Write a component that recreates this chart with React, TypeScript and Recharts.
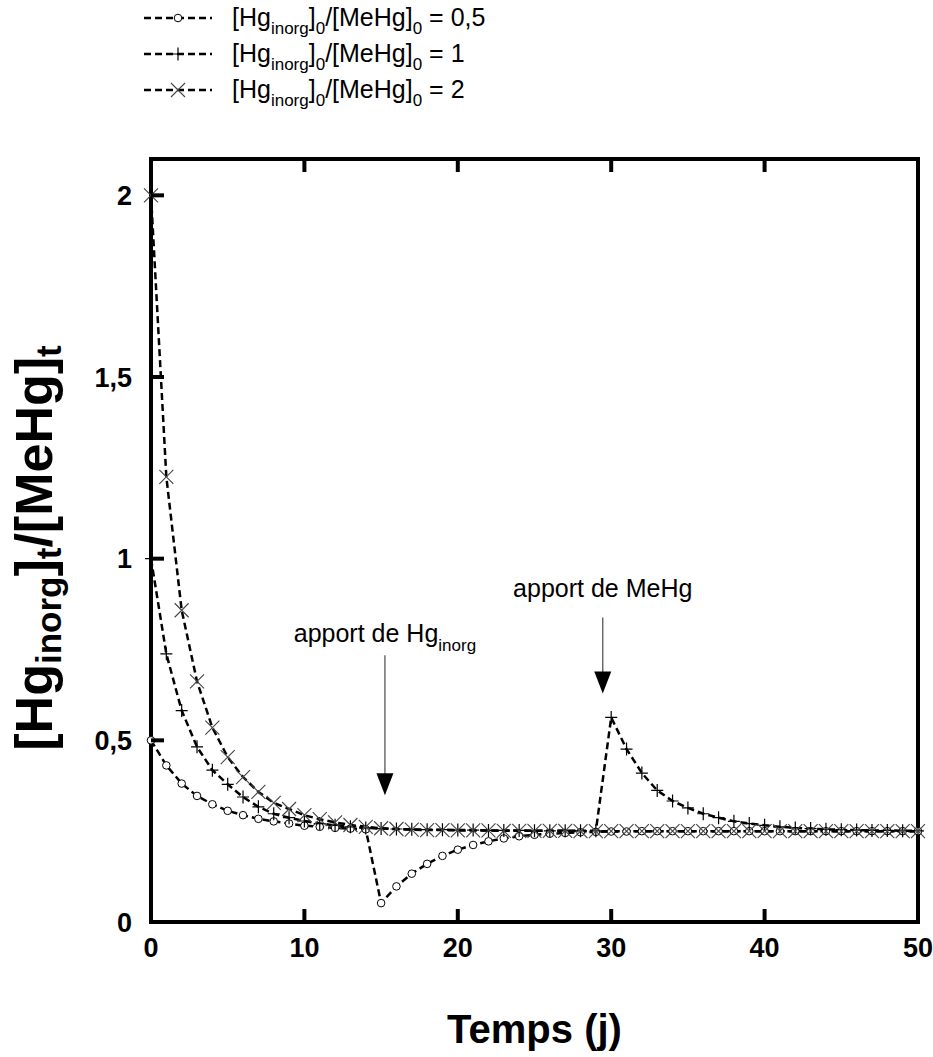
import React from 'react';
import { LineChart, Line, XAxis, YAxis, ReferenceArea, ReferenceDot, Legend } from 'recharts';

// temps (jours)
const days = [
  0, 1, 2, 3, 4, 5, 6, 7, 8, 9, 10, 11, 12, 13, 14, 15, 16, 17, 18, 19, 20, 21, 22, 23, 24, 25,
  26, 27, 28, 29, 30, 31, 32, 33, 34, 35, 36, 37, 38, 39, 40, 41, 42, 43, 44, 45, 46, 47, 48, 49, 50,
];

// [Hg inorg]0/[MeHg]0 = 0,5  (apport de Hg inorg a j15)
const ratioHalf = [
  0.5, 0.431, 0.381, 0.347, 0.324, 0.306, 0.294, 0.284, 0.277, 0.271, 0.265, 0.262, 0.259, 0.257, 0.255,
  0.052, 0.098, 0.133, 0.16, 0.182, 0.199, 0.212, 0.222, 0.23, 0.236, 0.24, 0.243, 0.245, 0.247, 0.248,
  0.249, 0.249, 0.25, 0.25, 0.25, 0.25, 0.25, 0.25, 0.25, 0.25, 0.25, 0.25, 0.25, 0.25, 0.25, 0.25,
  0.25, 0.25, 0.25, 0.25, 0.25,
];

// [Hg inorg]0/[MeHg]0 = 1  (apport de MeHg a j30)
const ratioOne = [
  1, 0.738, 0.582, 0.482, 0.418, 0.379, 0.344, 0.317, 0.298, 0.287, 0.278, 0.271, 0.266, 0.262, 0.259,
  0.257, 0.256, 0.255, 0.254, 0.254, 0.253, 0.253, 0.252, 0.252, 0.252, 0.251, 0.251, 0.251, 0.251, 0.251,
  0.563, 0.476, 0.41, 0.362, 0.333, 0.314, 0.298, 0.287, 0.277, 0.271, 0.266, 0.262, 0.259, 0.257, 0.255,
  0.254, 0.253, 0.252, 0.252, 0.251, 0.251,
];

// [Hg inorg]0/[MeHg]0 = 2
const ratioTwo = [
  2, 1.225, 0.858, 0.662, 0.535, 0.454, 0.399, 0.358, 0.328, 0.311, 0.294, 0.283, 0.274, 0.267, 0.262,
  0.258, 0.256, 0.254, 0.253, 0.253, 0.252, 0.252, 0.252, 0.251, 0.251, 0.251, 0.251, 0.251, 0.25, 0.25,
  0.25, 0.25, 0.25, 0.25, 0.25, 0.25, 0.25, 0.25, 0.25, 0.25, 0.25, 0.25, 0.25, 0.25, 0.25, 0.25,
  0.25, 0.25, 0.25, 0.25, 0.25,
];

const legendRatios = ['0,5', '1', '2'];
const xTicks = [0, 10, 20, 30, 40, 50];
const yTicks = [0, 0.5, 1, 1.5, 2];

const data = days.map((d, i) => ({ day: d, a: ratioHalf[i], b: ratioOne[i], c: ratioTwo[i] }));

const FONT = 'Liberation Sans, Arial, Helvetica, sans-serif';
const TICK_LEN = 13;

const circleDot = (p: any) => (
  <circle key={`a${p.index}`} cx={p.cx} cy={p.cy} r={3.8} fill="#fff" stroke="#000" strokeWidth={1} />
);
const plusDot = (p: any) => (
  <path key={`b${p.index}`} d={`M${p.cx - 6},${p.cy}H${p.cx + 6}M${p.cx},${p.cy - 6.5}V${p.cy + 6.5}`} stroke="#000" strokeWidth={1.2} fill="none" />
);
const crossDot = (p: any) => (
  <path key={`c${p.index}`} d={`M${p.cx - 7},${p.cy - 7}L${p.cx + 7},${p.cy + 7}M${p.cx - 7},${p.cy + 7}L${p.cx + 7},${p.cy - 7}`} stroke="#444" strokeWidth={1.1} fill="none" />
);
const markers = [circleDot, plusDot, crossDot];

const fmt = (v: number) => String(v).replace('.', ',');

const BottomTick = ({ x, y, payload }: any) => {
  const axisY = y - 16;
  return (
    <g>
      <text x={x} y={y} dy="0.72em" textAnchor="middle" fontFamily={FONT} fontWeight="bold" fontSize={27} fill="#000">
        {fmt(payload.value)}
      </text>
      {payload.value > 0 && payload.value < 50 && (
        <line x1={x} x2={x} y1={axisY} y2={axisY - TICK_LEN} stroke="#000" strokeWidth={4} />
      )}
    </g>
  );
};

const TopTick = ({ x, y }: any) => <line x1={x} x2={x} y1={y} y2={y + TICK_LEN} stroke="#000" strokeWidth={4} />;

const LeftTick = ({ x, y, payload }: any) => {
  const axisX = x + 19;
  return (
    <g>
      <text x={x} y={y} dy="0.36em" textAnchor="end" fontFamily={FONT} fontWeight="bold" fontSize={27} fill="#000">
        {fmt(payload.value)}
      </text>
      {payload.value > 0 && (
        <line x1={axisX} x2={axisX + TICK_LEN} y1={y} y2={y} stroke="#000" strokeWidth={4} />
      )}
    </g>
  );
};

const LegendBox = () => (
  <svg width={540} height={115} style={{ display: 'block' }}>
    {legendRatios.map((r, i) => {
      const y = 18 + i * 36;
      const Marker = markers[i];
      return (
        <g key={r}>
          <line x1={144} x2={212} y1={y} y2={y} stroke="#000" strokeWidth={2.5} strokeDasharray="7 4" />
          {Marker({ cx: 178, cy: y, index: 'leg' })}
          <text x={232} y={y + 8} fontFamily={FONT} fontSize={25} fill="#000" style={{ whiteSpace: 'pre' }}>
            <tspan>[Hg</tspan>
            <tspan fontSize={17} dy={8}>inorg</tspan>
            <tspan dy={-8}>]</tspan>
            <tspan fontSize={17} dy={8}>0</tspan>
            <tspan dy={-8}>/[MeHg]</tspan>
            <tspan fontSize={17} dy={8}>0</tspan>
            <tspan dy={-8}>{` = ${r}`}</tspan>
          </text>
        </g>
      );
    })}
  </svg>
);

const arrowShape = (label: string, sub: string | null, textUp: number, shaftUp: number) => (p: any) => {
  const { cx, cy } = p;
  return (
    <g>
      <line x1={cx} x2={cx} y1={cy - shaftUp} y2={cy - 21} stroke="#555" strokeWidth={1.3} />
      <path d={`M${cx - 8.5},${cy - 22}L${cx + 8.5},${cy - 22}L${cx},${cy}Z`} fill="#000" />
      <text x={cx} y={cy - textUp} textAnchor="middle" fontFamily={FONT} fontSize={25} fill="#000">
        <tspan>{label}</tspan>
        {sub && <tspan fontSize={17} dy={9}>{sub}</tspan>}
      </text>
    </g>
  );
};

const YTitle = () => {
  const cx = 52;
  const cy = 548;
  return (
    <text x={cx} y={cy} transform={`rotate(-90 ${cx} ${cy})`} textAnchor="middle" fontFamily={FONT} fontWeight="bold" fontSize={52} fill="#000">
      <tspan>[Hg</tspan>
      <tspan fontSize={35} dy={9}>inorg</tspan>
      <tspan dy={-9}>]</tspan>
      <tspan fontSize={35} dy={9}>t</tspan>
      <tspan dy={-9}>/[MeHg]</tspan>
      <tspan fontSize={35} dy={9}>t</tspan>
    </text>
  );
};

const XTitle = () => (
  <text x={534.5} y={1043} textAnchor="middle" fontFamily={FONT} fontWeight="bold" fontSize={40} fill="#000">
    Temps (j)
  </text>
);

export default function App() {
  return (
    <div style={{ position: 'absolute', left: 0, top: 0, width: 933, height: 1057, background: '#fff' }}>
      <LineChart width={933} height={1057} data={data} margin={{ top: 158, right: 15, bottom: 134, left: 150 }}>
        <XAxis
          dataKey="day"
          type="number"
          domain={[0, 50]}
          ticks={xTicks}
          height={1}
          tickSize={0}
          tickMargin={16}
          axisLine={false}
          tickLine={false}
          tick={BottomTick}
          interval={0}
          label={{ content: XTitle }}
        />
        <XAxis
          xAxisId="top"
          orientation="top"
          dataKey="day"
          type="number"
          domain={[0, 50]}
          ticks={[10, 20, 30, 40]}
          height={1}
          tickSize={0}
          tickMargin={0}
          axisLine={false}
          tickLine={false}
          tick={TopTick}
          interval={0}
        />
        <YAxis
          type="number"
          domain={[0, 2.1]}
          ticks={yTicks}
          width={1}
          tickSize={0}
          tickMargin={19}
          axisLine={false}
          tickLine={false}
          tick={LeftTick}
          interval={0}
          label={{ content: YTitle }}
        />
        <ReferenceArea x1={0} x2={50} y1={0} y2={2.1} fill="none" stroke="#000" strokeWidth={4} ifOverflow="extendDomain" />
        <Legend
          layout="horizontal"
          verticalAlign="middle"
          align="center"
          wrapperStyle={{ position: 'absolute', left: 0, top: 0, width: 540, height: 115 }}
          content={LegendBox}
        />
        <Line type="linear" dataKey="a" stroke="#000" strokeWidth={2.5} strokeDasharray="7 4" dot={circleDot} activeDot={false} isAnimationActive={false} />
        <Line type="linear" dataKey="b" stroke="#000" strokeWidth={2.5} strokeDasharray="7 4" dot={plusDot} activeDot={false} isAnimationActive={false} />
        <Line type="linear" dataKey="c" stroke="#000" strokeWidth={2.5} strokeDasharray="7 4" dot={crossDot} activeDot={false} isAnimationActive={false} />
        <ReferenceDot x={15.25} y={0.349} r={0} shape={arrowShape('apport de Hg', 'inorg', 153, 140)} />
        <ReferenceDot x={29.45} y={0.629} r={0} shape={arrowShape('apport de MeHg', null, 96, 76)} />
      </LineChart>
    </div>
  );
}
